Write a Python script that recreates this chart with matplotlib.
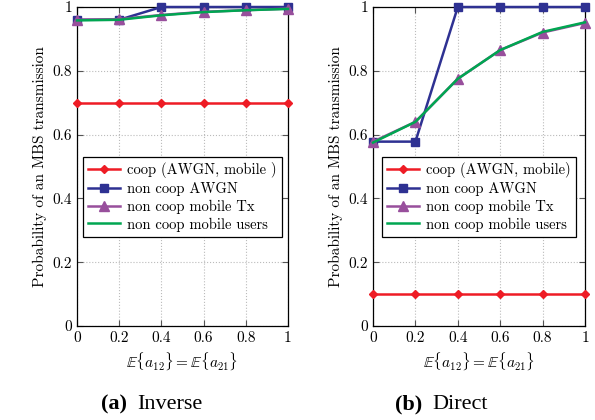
import numpy as np
import matplotlib.pyplot as plt

plt.rcParams['font.family'] = ['cmr10', 'DejaVu Serif']
plt.rcParams['mathtext.fontset'] = 'cm'
plt.rcParams['axes.formatter.use_mathtext'] = True

x = [0, 0.2, 0.4, 0.6, 0.8, 1]

# (a) Inverse
inv_coop = [0.7, 0.7, 0.7, 0.7, 0.7, 0.7]
inv_awgn = [0.96, 0.96, 1.0, 1.0, 1.0, 1.0]
inv_tx = [0.96, 0.962, 0.975, 0.985, 0.99, 0.995]
inv_users = [0.958, 0.96, 0.974, 0.984, 0.99, 0.994]

# (b) Direct
dir_coop = [0.1, 0.1, 0.1, 0.1, 0.1, 0.1]
dir_awgn = [0.578, 0.578, 1.0, 1.0, 1.0, 1.0]
dir_tx = [0.578, 0.64, 0.775, 0.865, 0.92, 0.95]
dir_users = [0.575, 0.64, 0.775, 0.865, 0.922, 0.952]

red = '#ee1c25'
blue = '#2e3192'
purple = '#984f9c'
green = '#00a651'

fig = plt.figure(figsize=(5.95, 4.2), dpi=100)
ax1 = fig.add_axes([0.1294, 0.2238, 0.3546, 0.7595])
ax2 = fig.add_axes([0.6269, 0.2238, 0.3563, 0.7595])


def panel(ax, coop, awgn, tx, users, coop_label):
    ax.plot(x, coop, '-', color=red, lw=1.8, marker='D', ms=4.5, label=coop_label, clip_on=False, zorder=3)
    ax.plot(x, awgn, '-', color=blue, lw=1.8, marker='s', ms=6, label='non coop AWGN', clip_on=False, zorder=3)
    ax.plot(x, tx, '-', color=purple, lw=1.8, marker='^', ms=7, label='non coop mobile Tx', clip_on=False, zorder=4)
    ax.plot(x, users, '-', color=green, lw=1.8, label='non coop mobile users', clip_on=False, zorder=4)
    ax.set_xlim(0, 1)
    ax.set_ylim(0, 1)
    ax.set_xticks(x)
    ax.set_xticklabels(['0', '0.2', '0.4', '0.6', '0.8', '1'])
    ax.set_yticks([0, 0.2, 0.4, 0.6, 0.8, 1])
    ax.set_yticklabels(['0', '0.2', '0.4', '0.6', '0.8', '1'])
    ax.tick_params(direction='in', top=True, right=True, labelsize=11, length=4, color='#555555')
    ax.grid(True, linestyle=':', color='#bbbbbb', lw=0.8)
    ax.set_axisbelow(True)
    for s in ax.spines.values():
        s.set_linewidth(0.9)
    ax.set_xlabel(r'$\mathbb{E}\{a_{12}\} = \mathbb{E}\{a_{21}\}$', fontsize=11)
    ax.set_ylabel('Probability of an MBS transmission', fontsize=11)
    leg = ax.legend(loc='center', bbox_to_anchor=(0.5, 0.405), fontsize=10.5, fancybox=False,
                    edgecolor='black', framealpha=1, handlelength=2.2, borderpad=0.35,
                    labelspacing=0.25, handletextpad=0.5)
    leg.get_frame().set_linewidth(0.9)


panel(ax1, inv_coop, inv_awgn, inv_tx, inv_users, 'coop (AWGN, mobile )')
panel(ax2, dir_coop, dir_awgn, dir_tx, dir_users, 'coop (AWGN, mobile)')

cap = dict(fontsize=16, family='Liberation Serif', va='baseline', ha='left')
fig.text(101 / 595, 0.026, '(a)', fontweight='bold', **cap)
fig.text(137 / 595, 0.026, 'Inverse', **cap)
fig.text(395 / 595, 0.026, '(b)', fontweight='bold', **cap)
fig.text(432 / 595, 0.026, 'Direct', **cap)

fig.savefig('out.png', dpi=100)
